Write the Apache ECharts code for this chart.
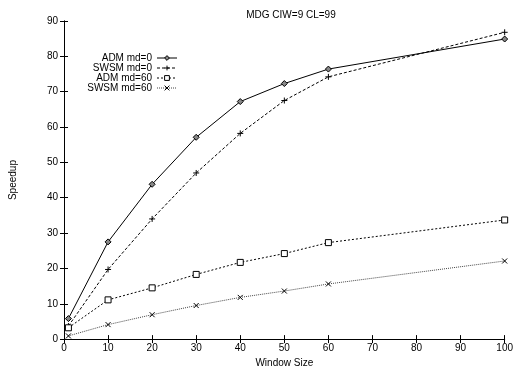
<!DOCTYPE html>
<html><head><meta charset="utf-8">
<script src="https://cdn.jsdelivr.net/npm/echarts@6/dist/echarts.min.js"></script>
<style>html,body{margin:0;padding:0;background:#fff}#c{width:516px;height:373px}</style>
</head><body><div id="c"></div>
<script>
var windowSizes = [1, 10, 20, 30, 40, 50, 60, 100];
var admMd0 = [5.8, 27.5, 43.8, 57.1, 67.2, 72.3, 76.4, 84.9];
var swsmMd0 = [3.7, 19.7, 34.0, 47.0, 58.2, 67.5, 74.2, 86.8];
var admMd60 = [3.2, 11.1, 14.5, 18.3, 21.7, 24.2, 27.3, 33.7];
var swsmMd60 = [0.9, 4.1, 6.9, 9.5, 11.8, 13.6, 15.6, 22.1];
var seriesNames = ['ADM md=0', 'SWSM md=0', 'ADM md=60', 'SWSM md=60'];

function pairs(ys){ return windowSizes.map(function(x,i){ return [x, ys[i]]; }); }
var font = 'Liberation Sans, Arial, sans-serif';
var chart = echarts.init(document.getElementById('c'), null, {renderer:'canvas'});
var axisCommon = {
  axisLine:{show:true,lineStyle:{color:'#000',width:1}},
  axisTick:{show:true,inside:true,length:4,lineStyle:{color:'#000',width:1}},
  splitLine:{show:false}
};
function mkSeries(name, data, symbol, size, dash, color, fill){
  return {name:name,type:'line',data:pairs(data),symbol:symbol,symbolSize:size,
    showAllSymbol:true,animation:false,
    lineStyle:{color:color,width:1,type:dash},
    itemStyle:{color:fill,borderColor:'#000',borderWidth:1}};
}
chart.setOption({
  animation:false,
  title:{text:'MDG CIW=9 CL=99',left:286,top:5,textAlign:'center',
    textStyle:{fontFamily:font,fontSize:10,fontWeight:'normal',color:'#000'}},
  grid:{left:63,right:8,top:21,bottom:28,containLabel:false},
  legend:{orient:'vertical',left:57,top:48,itemGap:0,itemWidth:20,itemHeight:6,align:'right',
    formatter:'{a|{name}}',
    lineStyle:{width:1},
    itemStyle:{borderWidth:1},
    textStyle:{fontFamily:font,fontSize:10,color:'#000',rich:{a:{width:90,align:'right',lineHeight:10,fontFamily:font,fontSize:10}}},
    data:seriesNames},
  xAxis:[
    Object.assign({type:'value',min:0,max:100,interval:10,position:'bottom',
      name:'Window Size',nameLocation:'middle',nameGap:15,
      nameTextStyle:{fontFamily:font,fontSize:10,color:'#000'},
      axisLabel:{fontFamily:font,fontSize:10,color:'#000',margin:4}}, axisCommon),
    Object.assign({type:'value',min:0,max:100,interval:10,position:'top',axisLabel:{show:false}}, axisCommon)
  ],
  yAxis:[
    Object.assign({type:'value',min:0,max:90,interval:10,position:'left',
      name:'Speedup',nameLocation:'middle',nameGap:46,nameRotate:90,
      nameTextStyle:{fontFamily:font,fontSize:10,color:'#000'},
      axisLabel:{fontFamily:font,fontSize:10,color:'#000',margin:6}}, axisCommon),
    Object.assign({type:'value',min:0,max:90,interval:10,position:'right',axisLabel:{show:false}}, axisCommon)
  ],
  series:[
    mkSeries(seriesNames[0], admMd0, 'diamond', 6, 'solid', '#000', '#888'),
    mkSeries(seriesNames[1], swsmMd0, 'path://M5,0L5,10M0,5L10,5', 6, [3,2], '#000', '#fff'),
    mkSeries(seriesNames[2], admMd60, 'rect', 6, [2,2], '#000', '#fff'),
    mkSeries(seriesNames[3], swsmMd60, 'path://M0,0L10,10M10,0L0,10', 5, [1,1], '#444', '#fff')
  ]
});
</script></body></html>
